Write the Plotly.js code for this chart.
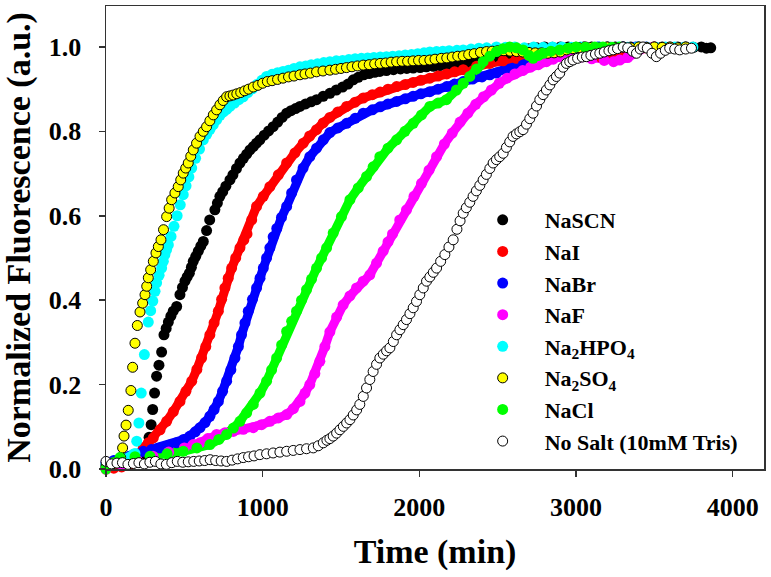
<!DOCTYPE html>
<html>
<head>
<meta charset="utf-8">
<script src="https://cdn.plot.ly/plotly-3.0.1.min.js"></script>
<style>html,body{margin:0;padding:0;background:#fff;}#chart{width:771px;height:577px;}</style>
</head>
<body>
<div id="chart"></div>
<script>
// ---- Data ----
const seriesNames = ['NaSCN', 'NaI', 'NaBr', 'NaF', 'Na<sub>2</sub>HPO<sub>4</sub>', 'Na<sub>2</sub>SO<sub>4</sub>', 'NaCl', 'No Salt (10mM Tris)'];
const xTicks = [0, 1000, 2000, 3000, 4000];
const yTicks = [0.0, 0.2, 0.4, 0.6, 0.8, 1.0];
const yTickLabels = ['0.0', '0.2', '0.4', '0.6', '0.8', '1.0'];

const naSCN_t = [0,40,80,120,160,200,240,260,275,288,298,310,323,338,355,370,384,398,414,429,451,472,488,504,518,532,545,557,573,589,605,621,642,662,695,711,727,745,765,791,810,833,855,877,898,919,940,961,982,1010,1038,1067,1096,1124,1153,1181,1210,1238,1274,1309,1344,1386,1429,1470,1510,1545,1578,1610,1645,1680,1715,1748,1790,1835,1880,1920,1961,2005,2045,2090,2130,2173,2215,2260,2300,2345,2386,2430,2475,2520,2565,2610,2655,2700,2750,2800,2850,2900,2950,3000,3050,3100,3150,3200,3250,3300,3350,3400,3450,3500,3550,3600,3650,3700,3750,3800,3832,3860];
const naSCN_v = [0.010,0.012,0.015,0.018,0.022,0.028,0.035,0.041,0.075,0.105,0.141,0.180,0.220,0.246,0.277,0.318,0.333,0.348,0.362,0.374,0.385,0.413,0.430,0.445,0.455,0.464,0.478,0.492,0.504,0.516,0.528,0.539,0.565,0.590,0.614,0.630,0.646,0.657,0.670,0.685,0.697,0.712,0.725,0.736,0.746,0.756,0.764,0.772,0.780,0.791,0.801,0.811,0.822,0.833,0.843,0.849,0.854,0.859,0.865,0.870,0.875,0.883,0.890,0.898,0.905,0.912,0.922,0.928,0.934,0.937,0.940,0.942,0.944,0.946,0.948,0.949,0.950,0.951,0.953,0.954,0.956,0.957,0.960,0.962,0.964,0.967,0.969,0.973,0.977,0.981,0.985,0.989,0.993,0.996,0.998,1.000,0.999,1.000,1.000,0.999,1.000,1.000,0.999,1.000,1.000,0.999,1.000,1.000,0.999,1.000,1.000,0.999,1.000,1.000,0.999,1.000,0.997,0.998];

const naI_t = [0,50,100,150,200,238,270,302,345,387,430,472,510,547,580,610,637,663,690,717,738,759,780,802,828,855,880,900,930,961,1004,1046,1100,1153,1206,1259,1300,1344,1386,1429,1480,1536,1590,1642,1700,1750,1800,1855,1910,1960,2010,2067,2120,2175,2225,2280,2365,2450,2535,2620,2700,2780,2860,2940,3020,3100,3162,3230,3300,3370,3440,3500];
const naI_v = [0.000,0.002,0.005,0.010,0.020,0.050,0.062,0.074,0.093,0.113,0.136,0.160,0.184,0.208,0.236,0.263,0.290,0.318,0.346,0.374,0.402,0.429,0.452,0.476,0.500,0.524,0.543,0.557,0.590,0.622,0.646,0.669,0.697,0.725,0.749,0.772,0.789,0.804,0.820,0.833,0.846,0.859,0.869,0.879,0.887,0.893,0.900,0.906,0.911,0.916,0.921,0.926,0.931,0.936,0.941,0.946,0.954,0.961,0.967,0.973,0.980,0.986,0.990,0.992,0.989,0.985,0.975,0.982,0.990,0.995,0.998,1.000];

const naBr_t = [0,50,100,150,200,238,290,344,400,451,495,536,570,600,632,663,690,717,744,770,797,823,845,865,887,908,935,961,983,1004,1025,1046,1067,1090,1120,1153,1185,1216,1258,1301,1344,1387,1429,1480,1536,1590,1642,1700,1750,1800,1855,1910,1960,2010,2067,2120,2175,2225,2280,2340,2400,2450,2492,2580,2662,2740,2820,2900,2980,3060,3140,3220,3300,3380];
const naBr_v = [0.015,0.020,0.025,0.030,0.035,0.042,0.046,0.050,0.056,0.062,0.070,0.078,0.088,0.098,0.110,0.125,0.141,0.160,0.184,0.208,0.235,0.263,0.290,0.318,0.346,0.374,0.402,0.429,0.452,0.476,0.500,0.524,0.550,0.570,0.596,0.622,0.654,0.685,0.713,0.740,0.760,0.780,0.797,0.808,0.819,0.831,0.843,0.851,0.858,0.865,0.871,0.877,0.883,0.889,0.894,0.900,0.906,0.912,0.918,0.924,0.929,0.934,0.938,0.947,0.957,0.968,0.979,0.988,0.994,0.998,1.000,0.999,1.000,1.000];

const naF_t = [0,100,200,300,400,500,557,600,650,706,760,812,876,940,993,1046,1100,1153,1196,1238,1270,1301,1333,1365,1397,1429,1472,1514,1557,1599,1642,1684,1727,1769,1800,1829,1875,1918,1966,2014,2062,2110,2160,2210,2260,2310,2360,2410,2460,2510,2560,2610,2660,2710,2760,2811,2855,2896,2960,3030,3100,3180,3240,3279,3330,3390,3449,3500];
const naF_v = [0.000,0.010,0.020,0.030,0.040,0.050,0.058,0.062,0.072,0.082,0.086,0.089,0.094,0.098,0.105,0.113,0.121,0.129,0.143,0.160,0.180,0.200,0.226,0.255,0.290,0.325,0.360,0.389,0.410,0.429,0.445,0.460,0.488,0.516,0.538,0.557,0.590,0.614,0.646,0.677,0.708,0.740,0.770,0.796,0.822,0.843,0.864,0.882,0.898,0.914,0.926,0.936,0.944,0.952,0.958,0.965,0.971,0.977,0.978,0.976,0.972,0.968,0.965,0.969,0.975,0.990,1.000,0.999];

const naHPO_t = [0,30,60,90,120,150,175,185,196,210,225,245,270,285,299,313,323,339,355,366,376,387,398,415,434,454,474,493,511,529,547,572,597,621,643,664,685,706,728,750,770,791,820,848,876,905,935,965,995,1025,1060,1095,1130,1165,1200,1238,1275,1310,1350,1390,1429,1470,1510,1550,1590,1630,1670,1710,1750,1790,1830,1870,1910,1950,1990,2030,2067,2110,2150,2190,2240,2280,2330,2380,2430,2492,2550,2610,2670,2730,2790,2850,2910,2970,3030,3090,3150,3210,3270,3330,3390,3450,3510,3570,3630,3690,3746];
const naHPO_v = [0.010,0.012,0.015,0.018,0.022,0.028,0.035,0.037,0.066,0.109,0.180,0.271,0.348,0.375,0.398,0.421,0.441,0.459,0.476,0.492,0.508,0.520,0.531,0.551,0.575,0.600,0.626,0.650,0.671,0.692,0.713,0.736,0.758,0.780,0.793,0.805,0.816,0.827,0.838,0.846,0.852,0.859,0.867,0.875,0.882,0.892,0.901,0.911,0.921,0.930,0.935,0.939,0.942,0.945,0.949,0.953,0.955,0.958,0.960,0.963,0.965,0.967,0.968,0.970,0.972,0.973,0.974,0.975,0.976,0.977,0.978,0.979,0.981,0.982,0.984,0.986,0.988,0.989,0.990,0.991,0.992,0.993,0.995,0.997,0.998,1.000,0.999,1.000,0.998,1.000,0.999,1.000,1.000,0.999,1.000,0.998,1.000,0.999,1.000,0.999,1.000,1.000,0.999,1.000,1.000,0.999,1.000];

const naSO_t = [0,20,40,60,80,94,106,115,128,142,159,170,185,200,217,234,249,260,270,285,302,319,334,351,367,387,403,419,440,461,477,493,509,525,541,557,578,600,621,642,663,685,706,727,748,770,791,812,835,860,885,910,940,970,1000,1030,1060,1095,1130,1165,1200,1238,1270,1305,1344,1385,1429,1465,1500,1535,1570,1605,1642,1680,1715,1750,1785,1820,1855,1890,1925,1960,1995,2030,2067,2100,2140,2175,2210,2245,2280,2315,2350,2390,2429,2465,2500,2540,2580,2620,2660,2700,2740,2780,2820,2860,2900,2940,2980,3020,3060,3100,3150,3200,3250,3300,3350,3400,3450,3500,3550,3600,3650,3700];
const naSO_v = [0.005,0.008,0.012,0.016,0.020,0.027,0.050,0.078,0.104,0.139,0.186,0.241,0.298,0.340,0.372,0.393,0.413,0.433,0.453,0.472,0.492,0.512,0.527,0.543,0.567,0.598,0.618,0.638,0.654,0.669,0.685,0.701,0.713,0.725,0.741,0.756,0.772,0.788,0.800,0.811,0.825,0.839,0.851,0.863,0.873,0.882,0.884,0.886,0.889,0.892,0.896,0.900,0.905,0.909,0.914,0.918,0.920,0.923,0.926,0.929,0.931,0.934,0.936,0.938,0.941,0.943,0.945,0.947,0.949,0.951,0.953,0.955,0.957,0.958,0.960,0.961,0.962,0.964,0.965,0.966,0.966,0.967,0.968,0.968,0.969,0.971,0.973,0.974,0.976,0.978,0.979,0.982,0.984,0.987,0.989,0.990,0.991,0.991,0.990,0.989,0.988,0.987,0.986,0.986,0.985,0.986,0.988,0.993,0.996,0.998,1.000,0.999,0.998,1.000,0.999,1.000,0.998,1.000,0.999,1.000,0.999,1.000,0.998,1.000];

const naCl_t = [0,45,89,185,281,390,493,580,663,720,770,813,855,898,940,983,1025,1057,1089,1121,1153,1185,1216,1248,1280,1312,1344,1376,1408,1450,1503,1557,1610,1663,1705,1748,1800,1855,1908,1961,2014,2067,2120,2173,2237,2280,2322,2365,2407,2450,2492,2535,2577,2620,2662,2700,2726,2760,2790,2840,2896,2950,3000,3060,3120,3172,3230,3280];
const naCl_v = [0.000,0.015,0.027,0.029,0.030,0.036,0.042,0.050,0.058,0.070,0.082,0.097,0.113,0.133,0.153,0.180,0.208,0.235,0.263,0.294,0.326,0.350,0.374,0.400,0.425,0.450,0.476,0.500,0.524,0.559,0.598,0.638,0.666,0.693,0.716,0.740,0.760,0.780,0.800,0.819,0.839,0.859,0.867,0.875,0.898,0.914,0.930,0.948,0.965,0.978,0.989,0.996,1.000,0.998,0.993,0.980,0.973,0.980,0.985,0.990,0.993,0.997,1.000,0.999,1.000,1.000,0.999,1.000];

const noSalt_t = [0,35,70,105,140,175,210,245,280,315,350,385,420,455,490,525,560,595,630,665,700,735,770,805,840,876,910,945,982,1025,1067,1110,1153,1195,1238,1280,1323,1355,1387,1410,1429,1450,1472,1493,1515,1536,1557,1578,1600,1620,1642,1663,1684,1705,1727,1748,1770,1791,1812,1834,1855,1876,1897,1918,1940,1961,1982,2003,2025,2046,2067,2089,2110,2136,2163,2189,2216,2240,2260,2280,2300,2322,2343,2364,2386,2407,2428,2450,2471,2492,2513,2535,2556,2577,2598,2620,2641,2662,2684,2705,2726,2748,2769,2790,2811,2833,2854,2875,2896,2918,2939,2960,2981,3010,3040,3067,3095,3124,3152,3180,3210,3237,3265,3301,3330,3360,3386,3410,3428,3455,3485,3513,3540,3570,3598,3630,3662,3700,3737];
const noSalt_v = [0.018,0.012,0.014,0.015,0.011,0.013,0.015,0.012,0.016,0.018,0.012,0.011,0.015,0.018,0.016,0.017,0.018,0.019,0.020,0.022,0.020,0.019,0.018,0.021,0.024,0.027,0.029,0.031,0.034,0.036,0.038,0.040,0.042,0.044,0.046,0.048,0.050,0.055,0.062,0.068,0.072,0.078,0.085,0.093,0.101,0.109,0.117,0.128,0.140,0.153,0.172,0.192,0.212,0.231,0.248,0.263,0.272,0.280,0.287,0.302,0.318,0.330,0.342,0.354,0.368,0.382,0.397,0.413,0.429,0.445,0.455,0.466,0.476,0.492,0.508,0.526,0.543,0.568,0.588,0.606,0.619,0.632,0.646,0.659,0.672,0.685,0.698,0.712,0.725,0.733,0.740,0.748,0.762,0.775,0.788,0.794,0.799,0.804,0.817,0.830,0.843,0.860,0.875,0.887,0.898,0.910,0.922,0.930,0.938,0.952,0.961,0.965,0.969,0.973,0.976,0.977,0.980,0.983,0.985,0.988,0.991,0.993,0.996,1.000,0.998,0.990,0.985,0.995,1.000,0.997,0.985,0.977,0.985,0.992,0.997,0.995,0.993,0.995,0.997];

// ---- Styles ----
const FONT = 'Liberation Serif, Times New Roman, serif';
const series = [
  {t: naSCN_t, v: naSCN_v, color: '#000000', edge: null, band: false},
  {t: naI_t, v: naI_v, color: '#ff0000', edge: null, band: true},
  {t: naBr_t, v: naBr_v, color: '#0000ff', edge: null, band: true},
  {t: naF_t, v: naF_v, color: '#ff00ff', edge: null, band: true},
  {t: naHPO_t, v: naHPO_v, color: '#00ffff', edge: null, band: false},
  {t: naSO_t, v: naSO_v, color: '#ffff00', edge: '#000000', band: false},
  {t: naCl_t, v: naCl_v, color: '#00ff00', edge: null, band: true},
  {t: noSalt_t, v: noSalt_v, color: '#ffffff', edge: '#000000', band: false}
];

const traces = [];
series.forEach((s, i) => {
  if (s.band) {
    traces.push({
      x: s.t, y: s.v, type: 'scatter', mode: 'lines', showlegend: false,
      line: {color: s.color, width: 9}, hoverinfo: 'skip', cliponaxis: false
    });
  }
});
series.forEach((s, i) => {
  traces.push({
    x: s.t, y: s.v, type: 'scatter', mode: 'markers', name: '<b>' + seriesNames[i] + '</b>',
    cliponaxis: false,
    marker: {
      color: s.color, size: s.edge ? 10 : 11,
      line: {color: s.edge || s.color, width: s.edge ? 1 : 0}
    }
  });
});

const layout = {
  width: 771, height: 577,
  margin: {l: 106, r: 7, t: 6, b: 108, pad: 0},
  paper_bgcolor: '#ffffff', plot_bgcolor: '#ffffff',
  showlegend: true,
  font: {family: FONT, color: '#000000'},
  xaxis: {
    range: [0, 4200], tickvals: xTicks, ticktext: xTicks.map(String),
    ticks: 'outside', ticklen: 6, tickwidth: 1.5, tickcolor: '#333',
    showline: true, linecolor: '#333', linewidth: 1.5, mirror: true,
    showgrid: false, zeroline: false,
    tickfont: {family: FONT, size: 26, weight: 'bold', color: '#000'},
    ticklabelstandoff: 8,
    title: {text: 'Time (min)', font: {family: FONT, size: 34, weight: 'bold', color: '#000'}, standoff: 18}
  },
  yaxis: {
    range: [0, 1.097], tickvals: yTicks, ticktext: yTickLabels,
    ticks: 'outside', ticklen: 6, tickwidth: 1.5, tickcolor: '#333',
    showline: true, linecolor: '#333', linewidth: 1.5, mirror: true,
    showgrid: false, zeroline: false,
    tickfont: {family: FONT, size: 26, weight: 'bold', color: '#000'},
    ticklabelstandoff: 12,
    title: {text: 'Normalized Fluorescence (a.u.)', font: {family: FONT, size: 34, weight: 'bold', color: '#000'}, standoff: 10}
  },
  legend: {
    x: 0.539, y: 0.583, xanchor: 'left', yanchor: 'top',
    bgcolor: 'rgba(0,0,0,0)', borderwidth: 0,
    font: {family: FONT, size: 22, color: '#000'},
    itemwidth: 74, tracegroupgap: 0
  }
};

Plotly.newPlot('chart', traces, layout, {displayModeBar: false, staticPlot: true});
</script>
</body>
</html>
